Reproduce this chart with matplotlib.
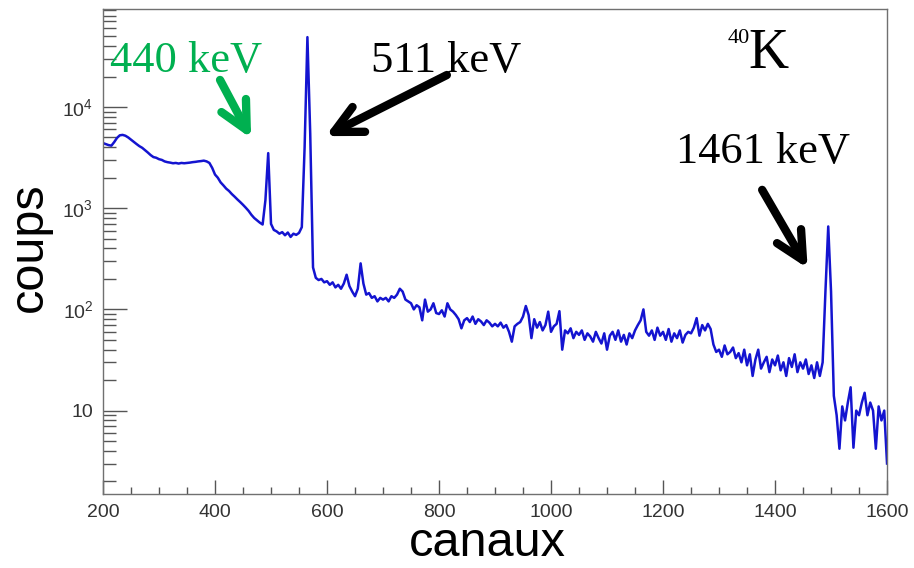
import numpy as np
import matplotlib.pyplot as plt
from matplotlib.ticker import MultipleLocator, LogLocator, FuncFormatter, NullFormatter

# spectre, un point tous les 5 canaux (200 -> 1600)
canaux = np.arange(200, 1601, 5)
coups = [
    4400, 4300, 4200, 4150, 4500, 4950, 5250, 5300, 5200, 5000,   # 200
    4750, 4500, 4300, 4100, 3950, 3750, 3550, 3350, 3200, 3150,   # 250
    3050, 3000, 2900, 2850, 2820, 2780, 2800, 2760, 2800, 2780,   # 300
    2800, 2820, 2850, 2870, 2900, 2920, 2950, 2900, 2800, 2500,   # 350
    2150, 2000, 1800, 1680, 1560, 1480, 1380, 1300, 1220, 1150,   # 400
    1080, 1010, 940, 860, 800, 760, 720, 690, 1200, 3500,         # 450
    700, 610, 590, 560, 580, 540, 575, 520, 560, 545,             # 500
    570, 650, 4000, 49000, 5500, 260, 205, 195, 200, 185,         # 550
    190, 175, 185, 165, 175, 160, 180, 220, 170, 150,             # 600
    135, 160, 285, 180, 140, 145, 130, 135, 120, 130,             # 650
    125, 130, 120, 135, 130, 140, 160, 150, 125, 120,             # 700
    115, 100, 110, 105, 78, 125, 95, 100, 115, 92,                # 750
    90, 98, 85, 115, 100, 95, 88, 80, 65, 78,                     # 800
    82, 75, 85, 72, 80, 76, 70, 78, 74, 68,                       # 850
    72, 68, 74, 66, 70, 60, 48, 68, 72, 75,                       # 900
    85, 108, 88, 52, 80, 66, 75, 62, 70, 95,                      # 950
    60, 68, 72, 96, 40, 62, 58, 65, 52, 60,                       # 1000
    56, 62, 50, 58, 54, 48, 60, 52, 46, 58,                       # 1050
    40, 55, 60, 50, 62, 48, 56, 45, 58, 52,                       # 1100
    62, 70, 78, 100, 60, 55, 62, 50, 66, 55,                      # 1150
    60, 50, 64, 48, 58, 52, 62, 47, 56, 60,                       # 1200
    58, 66, 82, 55, 70, 62, 72, 64, 45, 38,                       # 1250
    40, 34, 44, 36, 38, 42, 33, 37, 30, 40,                       # 1300
    28, 36, 22, 32, 40, 26, 30, 34, 24, 32,                       # 1350
    28, 35, 25, 30, 22, 33, 27, 36, 24, 30,                       # 1400
    26, 32, 23, 28, 21, 30, 22, 30, 150, 660,                     # 1450
    150, 14, 9, 4.2, 11, 8, 12, 17, 4.3, 10,                      # 1500
    9, 12, 15, 9, 12, 10, 4.2, 11, 8, 10,                         # 1550
    3,                                                            # 1600
]
assert len(coups) == len(canaux)

fig = plt.figure(figsize=(9.14, 5.68), dpi=100)
ax = fig.add_axes([0.1127, 0.1303, 0.8578, 0.8539])

ax.plot(canaux, coups, color='#1414d0', lw=1.8)

ax.set_yscale('log')
ax.set_xlim(200, 1600)
ax.set_ylim(1.5, 9.3e4)

ax.xaxis.set_major_locator(MultipleLocator(200))
ax.xaxis.set_minor_locator(MultipleLocator(50))
ax.yaxis.set_major_locator(LogLocator(base=10, numticks=10))
ax.yaxis.set_minor_locator(LogLocator(base=10, subs=np.arange(2, 10), numticks=20))
ax.yaxis.set_minor_formatter(NullFormatter())


def fmt_y(v, pos):
    e = int(round(np.log10(v)))
    if e == 1:
        return '10'
    return r'$\mathregular{10^{%d}}$' % e


ax.yaxis.set_major_formatter(FuncFormatter(fmt_y))

for s in ax.spines.values():
    s.set_color('#707070')
    s.set_linewidth(1.0)

ax.tick_params(axis='both', which='both', direction='in', colors='#555555',
               top=False, right=False, width=1.0)
ax.tick_params(axis='x', which='major', length=10, pad=7, labelsize=14)
ax.tick_params(axis='x', which='minor', length=5)
ax.tick_params(axis='y', which='major', length=17, pad=7, labelsize=14)
ax.tick_params(axis='y', which='minor', length=9)
for lab in ax.get_xticklabels() + ax.get_yticklabels():
    lab.set_fontfamily('Liberation Sans')
    lab.set_color('#333333')

fig.text(487 / 914, 0.003, 'canaux', fontsize=35, family='Liberation Sans',
         ha='center', va='bottom')
fig.text(42 / 914, 1 - 247 / 568, 'coups', fontsize=35, family='Liberation Sans',
         rotation=90, rotation_mode='anchor', ha='center', va='baseline')

# annotations des pics
serif = 'Liberation Serif'
vert = '#00b050'
ax.text(348, 22200, '440 keV', color=vert, fontsize=32, family=serif,
        ha='center', va='baseline')
ax.text(812, 22200, '511 keV', color='black', fontsize=32, family=serif,
        ha='center', va='baseline')
ax.text(1379, 2800, '1461 keV', color='black', fontsize=32, family=serif,
        ha='center', va='baseline')
ax.text(1352, 24300, 'K', color='black', fontsize=40, family=serif,
        ha='left', va='baseline')
ax.text(1316, 42800, '40', color='black', fontsize=16, family=serif,
        ha='left', va='baseline')

fleche = '->,head_length=20,head_width=10'
for tip, tail, c in [((468, 4513), (409, 18500), vert),
                     ((591, 4940), (814, 20700), 'black'),
                     ((1462, 235), (1377, 1517), 'black')]:
    ax.annotate('', xy=tip, xytext=tail,
                arrowprops=dict(arrowstyle=fleche, mutation_scale=1, lw=6,
                                color=c, shrinkA=0, shrinkB=3,
                                capstyle='round', joinstyle='round'))

fig.savefig('out.png', dpi=100)
